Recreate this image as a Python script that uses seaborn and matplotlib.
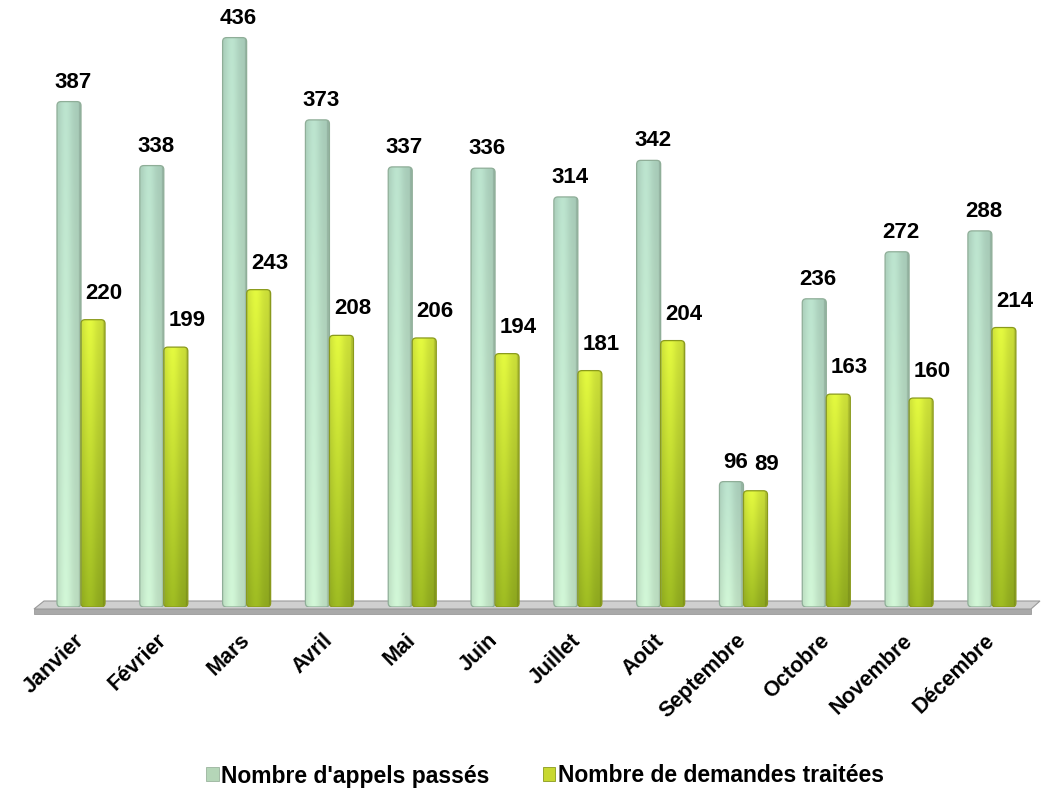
import numpy as np
import pandas as pd
import matplotlib
matplotlib.use("Agg")
import matplotlib.pyplot as plt
import seaborn as sns
from matplotlib.patches import FancyBboxPatch, Polygon, Rectangle

# Monthly activity figures
months = ["Janvier", "Février", "Mars", "Avril", "Mai", "Juin", "Juillet",
          "Août", "Septembre", "Octobre", "Novembre", "Décembre"]
appels = [387, 338, 436, 373, 337, 336, 314, 342, 96, 236, 272, 288]
demandes = [220, 199, 243, 208, 206, 194, 181, 204, 89, 163, 160, 214]
series = ["Nombre d'appels passés", "Nombre de demandes traitées"]

df = pd.DataFrame({
    "Mois": months * 2,
    "Valeur": appels + demandes,
    "Série": [series[0]] * len(months) + [series[1]] * len(months),
})

sns.set_theme(style="white")
plt.rcParams["font.family"] = ["Liberation Sans", "DejaVu Sans"]
plt.rcParams["text.color"] = "black"

W, H = 1056, 792
fig = plt.figure(figsize=(W / 100, H / 100), dpi=100)
fig.patch.set_facecolor("white")
ax = fig.add_axes([0.0375, 0.2336, 0.941, 0.742])
ax.set_facecolor("none")

base_colors = ["#bfe3c8", "#c4d83a"]
sns.barplot(data=df, x="Mois", y="Valeur", hue="Série", order=months,
            hue_order=series, palette=base_colors, width=0.58,
            saturation=1, legend=False, ax=ax)

ax.set_xlim(-0.5, 11.5)
ax.set_ylim(0, 450)

# Pixel scale of data units, used for rounded tops
ax_w_px = 0.941 * W
ax_h_px = 0.742 * H
x_per_px = 12 / ax_w_px
y_per_px = 450 / ax_h_px


def gradient(top, bottom, profile, n=64):
    top = np.array(top)
    bottom = np.array(bottom)
    t = np.linspace(0, 1, n)[:, None, None]
    vert = top * (1 - t) + bottom * t
    prof = np.array(profile)[None, :, None]
    return np.clip(vert * prof, 0, 1)


xs = np.linspace(0, 1, 32)
profile = 0.92 + 0.12 * np.exp(-((xs - 0.35) / 0.28) ** 2) - 0.10 * (xs > 0.88)
styles = [
    dict(top=(0.71, 0.86, 0.78), bottom=(0.79, 0.93, 0.81), edge="#8fae98"),
    dict(top=(0.86, 0.94, 0.24), bottom=(0.60, 0.71, 0.13), edge="#8a9a1c"),
]

r_px = 4
for cont, st in zip(ax.containers, styles):
    img = gradient(st["top"], st["bottom"], profile)
    for bar in cont:
        x0, w, h = bar.get_x(), bar.get_width(), bar.get_height()
        bar.set_visible(False)
        fancy = FancyBboxPatch((x0, 0), w, h,
                               boxstyle=f"round,pad=0,rounding_size={r_px * x_per_px}",
                               mutation_aspect=y_per_px / x_per_px,
                               facecolor="none", edgecolor=st["edge"],
                               linewidth=0.9, zorder=3)
        ax.add_patch(fancy)
        im = ax.imshow(img, extent=(x0, x0 + w, 0, h), aspect="auto",
                       zorder=2, interpolation="bilinear")
        im.set_clip_path(fancy)

ax.set_xlim(-0.5, 11.5)
ax.set_ylim(0, 450)

# Value labels above each bar
offsets = [(4, 9), (11, 16)]
for cont, (dx, dy) in zip(ax.containers, offsets):
    for bar in cont:
        v = bar.get_height()
        ax.annotate(f"{v:.0f}", (bar.get_x() + bar.get_width() / 2, v),
                    xytext=(dx, dy), textcoords="offset pixels",
                    ha="center", va="bottom", fontsize=16, fontweight="bold",
                    color="black", zorder=5)

# Floor under the bars
def fig_pts(pts):
    return [(x / W, 1 - y / H) for x, y in pts]

top_face = Polygon(fig_pts([(44, 601), (1040, 601), (1031, 609), (34, 609)]),
                   closed=True, transform=fig.transFigure, facecolor="#cfcfcf",
                   edgecolor="#9a9a9a", linewidth=0.8, zorder=1, clip_on=False)
front_face = Polygon(fig_pts([(34, 609), (1031, 609), (1031, 614), (34, 614)]),
                     closed=True, transform=fig.transFigure, facecolor="#a9a9a9",
                     edgecolor="#9a9a9a", linewidth=0.6, zorder=1, clip_on=False)
ax.add_patch(top_face)
ax.add_patch(front_face)

for s in ax.spines.values():
    s.set_visible(False)
ax.set_yticks([])
ax.set_xlabel("")
ax.set_ylabel("")
ax.set_xticks(range(len(months)))
ax.set_xticklabels(months, rotation=44, ha="right", va="center",
                   rotation_mode="anchor", fontsize=15.5, fontweight="bold",
                   color="black")
ax.tick_params(axis="x", length=0, pad=22)

handles = [Rectangle((0, 0), 1, 1, facecolor="#b5d6b8", edgecolor="#9ab49e", linewidth=0.6),
           Rectangle((0, 0), 1, 1, facecolor="#c8d830", edgecolor="#8a9a1c", linewidth=0.6)]
fig.legend(handles, series, loc="center", bbox_to_anchor=(545 / W, 1 - 776 / H),
           ncol=2, frameon=False, handlelength=0.55, handleheight=0.55,
           handletextpad=0.12, columnspacing=2.3, labelcolor="black",
           prop={"weight": "bold", "size": 16.5})

fig.savefig("out.png", dpi=100, facecolor="white")
